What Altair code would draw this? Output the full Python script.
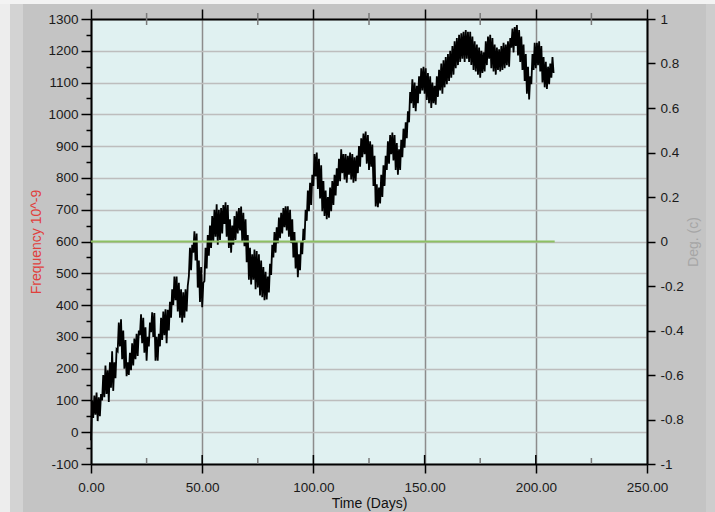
import altair as alt
import pandas as pd

# ---------------- data ----------------
# Daily low / high envelope of the frequency trace;
# the trace alternates low (day d) and high (day d + 0.5).
START_DAY = 0.0
HALF_DAY = 0.5

freq_low = [
    -25, 45, 55, 35, 50, 100, 110, 120, 95, 140,
    130, 170, 255, 270, 230, 200, 176, 180, 195, 210,
    230, 240, 305, 280, 250, 225, 270, 315, 300, 225,
    225, 270, 290, 305, 280, 320, 360, 400, 415, 380,
    360, 345, 360, 380, 490, 510, 565, 540, 455, 410,
    393, 475, 515, 555, 580, 600, 615, 590, 605, 625,
    655, 615, 580, 565, 590, 605, 625, 635, 600, 585,
    535, 480, 465, 480, 450, 455, 430, 425, 415, 418,
    440, 495, 550, 565, 595, 610, 625, 645, 635, 615,
    595, 550, 515, 488, 510, 560, 605, 665, 695, 715,
    775, 805, 765, 735, 695, 680, 670, 675, 695, 715,
    745, 775, 790, 815, 795, 785, 810, 795, 785, 790,
    815, 835, 865, 875, 845, 825, 835, 775, 710, 708,
    720, 740, 775, 825, 845, 875, 855, 825, 810, 825,
    865, 895, 925, 975, 1035, 1020, 1010, 1035, 1065, 1075,
    1065, 1045, 1035, 1020, 1035, 1030, 1055, 1075, 1065, 1085,
    1095, 1105, 1115, 1125, 1145, 1155, 1165, 1175, 1165, 1175,
    1165, 1155, 1140, 1135, 1125, 1115, 1130, 1135, 1155, 1175,
    1145, 1135, 1125, 1140, 1135, 1140, 1145, 1155, 1150, 1210,
    1195, 1215, 1185, 1165, 1140, 1105, 1065, 1047, 1095, 1140,
    1145, 1155, 1135, 1100, 1085, 1080, 1095, 1115, 1130,
]
freq_high = [
    100, 115, 125, 110, 120, 180, 210, 195, 220, 255,
    220, 260, 345, 355, 320, 290, 220, 250, 280, 295,
    310, 320, 371, 360, 330, 300, 345, 377, 375, 300,
    310, 360, 380, 387, 385, 410, 450, 490, 490, 470,
    450, 440, 450, 460, 580, 590, 632, 625, 540, 520,
    470, 580, 620, 650, 680, 700, 717, 700, 705, 715,
    723, 715, 670, 650, 680, 695, 705, 710, 690, 670,
    620, 580, 560, 575, 570, 560, 540, 520, 505, 490,
    530, 590, 630, 645, 675, 690, 705, 711, 711, 700,
    670, 630, 600, 560, 600, 640, 700, 760, 785, 810,
    875, 880, 860, 840, 790, 760, 740, 770, 790, 810,
    830, 860, 890, 875, 875, 870, 880, 875, 865, 870,
    900, 925, 940, 946, 935, 915, 905, 870, 780, 770,
    810, 840, 870, 915, 935, 943, 935, 910, 890, 920,
    955, 975, 1010, 1070, 1110, 1100, 1090, 1120, 1145, 1150,
    1145, 1130, 1120, 1100, 1090, 1120, 1140, 1160, 1170, 1180,
    1190, 1200, 1215, 1230, 1240, 1250, 1255, 1260, 1265, 1260,
    1260, 1245, 1230, 1220, 1210, 1200, 1195, 1230, 1245, 1250,
    1240, 1220, 1210, 1205, 1215, 1225, 1220, 1230, 1240, 1270,
    1275, 1281, 1265, 1245, 1220, 1190, 1150, 1120, 1190, 1225,
    1225, 1230, 1215, 1180, 1165, 1150, 1160, 1180,
]

trace_days, trace_freq = [], []
for i, lo in enumerate(freq_low):
    trace_days.append(START_DAY + i)
    trace_freq.append(lo)
    if i < len(freq_high):
        trace_days.append(START_DAY + i + HALF_DAY)
        trace_freq.append(freq_high[i])

deg_days = [0.0, 208.5]
deg_values = [0.0, 0.0]

x_major = [0, 50, 100, 150, 200, 250]
x_minor = [25, 75, 125, 175, 225]
x_inner_major = [50, 100, 150, 200]
y_left_ticks = list(range(-100, 1301, 50))
y_right_ticks = [-1, -0.8, -0.6, -0.4, -0.2, 0, 0.2, 0.4, 0.6, 0.8, 1]

# ---------------- style ----------------
FONT = "Liberation Sans"
W, H = 556, 445
PAD = {"left": 91, "top": 19, "right": 68, "bottom": 48}
BG = "#c4c4c4"
PLOT_BG = "#e0f1f1"

freq_df = pd.DataFrame({"day": trace_days, "freq": trace_freq})
deg_df = pd.DataFrame({"day": deg_days, "deg": deg_values})
one = pd.DataFrame({"k": [0]})

xscale = alt.Scale(domain=[0, 250], nice=False, zero=False)
major100 = "datum.value % 100 === 0"

# decorative frame strips of the panel
frame_top = alt.Chart(one).mark_rect(color="#f3f3f3").encode(
    x=alt.value(-PAD["left"]), x2=alt.value(W + PAD["right"]),
    y=alt.value(-PAD["top"]), y2=alt.value(-PAD["top"] + 4))
frame_left_outer = alt.Chart(one).mark_rect(color="#ededed").encode(
    x=alt.value(-PAD["left"]), x2=alt.value(-PAD["left"] + 10),
    y=alt.value(-PAD["top"] + 4), y2=alt.value(H + PAD["bottom"]))
frame_left_inner = alt.Chart(one).mark_rect(color="#d3d3d3").encode(
    x=alt.value(-PAD["left"] + 10), x2=alt.value(-PAD["left"] + 23),
    y=alt.value(-PAD["top"] + 4), y2=alt.value(H + PAD["bottom"]))
frame_right = alt.Chart(one).mark_rect(color="#cdcdcd").encode(
    x=alt.value(W + PAD["right"] - 9), x2=alt.value(W + PAD["right"]),
    y=alt.value(-PAD["top"] + 4), y2=alt.value(H + PAD["bottom"]))

freq_line = alt.Chart(freq_df).mark_line(color="black", strokeWidth=1.8).encode(
    x=alt.X(
        "day:Q", scale=xscale,
        axis=alt.Axis(
            orient="bottom", values=x_major,
            labelExpr="format(datum.value, '.2f')",
            tickSize=9, tickWidth=1.5, tickColor="black",
            domainColor="black", domainWidth=2,
            labelFont=FONT, labelFontSize=13.5, labelColor="#1a1a1a", labelPadding=7,
            labelFlush=False,
            grid=True, gridColor="#8c8c8c", gridWidth=1.5,
            title="Time (Days)", titleFont=FONT, titleFontSize=14,
            titleFontWeight="normal", titleColor="#111111", titlePadding=3,
        ),
    ),
    y=alt.Y(
        "freq:Q", scale=alt.Scale(domain=[-100, 1300], nice=False, zero=False),
        axis=alt.Axis(
            orient="left", values=y_left_ticks,
            labelExpr=f"{major100} ? (datum.value < 0 ? '-' + abs(datum.value) : '' + datum.value) : ''",
            tickSize={"condition": {"test": major100, "value": 10}, "value": 5},
            tickWidth=1.5, tickColor="black",
            domainColor="black", domainWidth=2,
            labelFont=FONT, labelFontSize=13.5, labelColor="#1a1a1a", labelPadding=3,
            labelFlush=False,
            grid=True, gridColor="#bdbdbd", gridWidth=1.5,
            gridOpacity={"condition": {"test": major100, "value": 1}, "value": 0},
            title="Frequency 10^-9", titleFont=FONT, titleFontSize=14,
            titleFontWeight="normal", titleColor="#e0403c", titlePadding=4,
        ),
    ),
)

deg_line = alt.Chart(deg_df).mark_line(color="#8dc063", strokeWidth=2).encode(
    x=alt.X(
        "day:Q", scale=xscale,
        axis=alt.Axis(
            orient="top", values=x_major, labels=False, tickSize=10,
            tickWidth=1.5, tickColor="black", domainColor="black", domainWidth=2,
            grid=False, title=None,
        ),
    ),
    y=alt.Y(
        "deg:Q", scale=alt.Scale(domain=[-1, 1], nice=False, zero=False),
        axis=alt.Axis(
            orient="right", values=y_right_ticks,
            labelExpr="datum.value < 0 ? '-' + format(abs(datum.value), '.1~f') : format(datum.value, '.1~f')",
            tickSize=8, tickWidth=1.5, tickColor="black",
            domainColor="black", domainWidth=2,
            labelFont=FONT, labelFontSize=13.5, labelColor="#1a1a1a", labelPadding=5,
            labelFlush=False, grid=False,
            title="Deg. (c)", titleFont=FONT, titleFontSize=14, titleFontWeight="normal",
            titleColor="#a6a6a6", titleAngle=270, titlePadding=17,
        ),
    ),
)

inner_major = alt.Chart(pd.DataFrame({"day": x_inner_major})).mark_rule(
    color="black", strokeWidth=1.5
).encode(x=alt.X("day:Q", scale=xscale, axis=None), y=alt.value(H - 9), y2=alt.value(H))

inner_minor = alt.Chart(pd.DataFrame({"day": x_minor})).mark_rule(
    color="#7a7a7a", strokeWidth=1.5
).encode(x=alt.X("day:Q", scale=xscale, axis=None), y=alt.value(H - 6), y2=alt.value(H))

top_minor = alt.Chart(pd.DataFrame({"day": x_minor})).mark_rule(
    color="#7a7a7a", strokeWidth=1.5
).encode(x=alt.X("day:Q", scale=xscale, axis=None), y=alt.value(-6), y2=alt.value(6))

chart = alt.layer(
    frame_top, frame_left_outer, frame_left_inner, frame_right,
    freq_line, deg_line, inner_major, inner_minor, top_minor
).resolve_scale(y="independent").properties(
    width=W, height=H,
    autosize=alt.AutoSizeParams(type="none"),
    padding=PAD,
    background=BG,
).configure_view(fill=PLOT_BG, stroke=None)

chart.save("out.html", embed_options={"renderer": "svg", "actions": False})
